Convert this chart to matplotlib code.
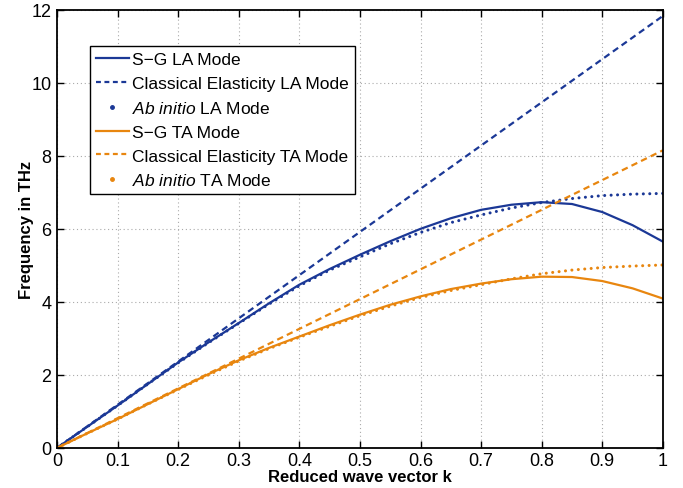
import numpy as np
import matplotlib.pyplot as plt
from matplotlib.lines import Line2D

plt.rcParams['font.family'] = ['Liberation Sans', 'DejaVu Sans']
plt.rcParams['mathtext.fontset'] = 'custom'
plt.rcParams['mathtext.it'] = 'Liberation Sans:italic'
plt.rcParams['mathtext.rm'] = 'Liberation Sans'

# reduced wave vector, read every 0.05
k = np.array([0, 0.05, 0.1, 0.15, 0.2, 0.25, 0.3, 0.35, 0.4, 0.45, 0.5,
              0.55, 0.6, 0.65, 0.7, 0.75, 0.8, 0.85, 0.9, 0.95, 1.0])

la_sg = [0, 0.58, 1.16, 1.75, 2.34, 2.89, 3.42, 3.96, 4.47, 4.90, 5.29,
         5.66, 6.00, 6.29, 6.52, 6.66, 6.73, 6.68, 6.46, 6.10, 5.65]
la_abinitio = [0, 0.58, 1.16, 1.75, 2.33, 2.88, 3.41, 3.94, 4.44, 4.87, 5.23,
               5.59, 5.90, 6.17, 6.38, 6.57, 6.72, 6.83, 6.91, 6.95, 6.97]
ta_sg = [0, 0.40, 0.79, 1.20, 1.61, 2.02, 2.40, 2.74, 3.05, 3.36, 3.65,
         3.92, 4.15, 4.35, 4.50, 4.62, 4.69, 4.68, 4.57, 4.37, 4.09]
ta_abinitio = [0, 0.40, 0.79, 1.20, 1.60, 2.00, 2.38, 2.72, 3.03, 3.33, 3.62,
               3.88, 4.12, 4.31, 4.47, 4.63, 4.77, 4.87, 4.94, 4.98, 5.01]

# classical elasticity is a straight line
k_cl = [0, 1]
la_cl = [0, 11.83]
ta_cl = [0, 8.15]

blue = '#1b3896'
orange = '#e8860f'

fig = plt.figure(figsize=(6.83, 4.89), dpi=100)
ax = fig.add_axes([0.0835, 0.082, 0.887, 0.896])

dash = (0, (2.9, 1.9))
dots = (0, (0.01, 2.1))

ax.plot(k, la_sg, color=blue, lw=1.6)
ax.plot(k_cl, la_cl, color=blue, lw=1.6, linestyle=dash)
ax.plot(k, la_abinitio, color=blue, lw=2.2, linestyle=dots, dash_capstyle='round')
ax.plot(k, ta_sg, color=orange, lw=1.6)
ax.plot(k_cl, ta_cl, color=orange, lw=1.6, linestyle=dash)
ax.plot(k, ta_abinitio, color=orange, lw=2.2, linestyle=dots, dash_capstyle='round')

ax.set_xlim(0, 1)
ax.set_ylim(0, 12)
ax.set_xticks(np.arange(0, 1.01, 0.1))
ax.set_xticklabels(['0', '0.1', '0.2', '0.3', '0.4', '0.5', '0.6', '0.7', '0.8', '0.9', '1'])
ax.set_yticks(np.arange(0, 13, 2))
ax.tick_params(direction='in', length=5, width=1, top=True, right=True, labelsize=13)
ax.tick_params(axis='x', pad=3)
ax.tick_params(axis='y', pad=4)
ax.grid(True, linestyle=(0, (1, 2.5)), color='#aaaaaa', lw=0.8)
for s in ax.spines.values():
    s.set_linewidth(1.3)

ax.set_xlabel('Reduced wave vector k', fontsize=12, fontweight='bold', labelpad=0)
ax.set_ylabel('Frequency in THz', fontsize=12, fontweight='bold', labelpad=-2)

handles = [
    Line2D([], [], color=blue, lw=1.6),
    Line2D([], [], color=blue, lw=1.6, linestyle=(0, (2.2, 1.6))),
    Line2D([], [], color=blue, linestyle='none', marker='.', markersize=5),
    Line2D([], [], color=orange, lw=1.6),
    Line2D([], [], color=orange, lw=1.6, linestyle=(0, (2.2, 1.6))),
    Line2D([], [], color=orange, linestyle='none', marker='.', markersize=5),
]
labels = ['S\u2212G LA Mode', 'Classical Elasticity LA Mode', r'$\mathit{Ab\ initio}$ LA Mode',
          'S\u2212G TA Mode', 'Classical Elasticity TA Mode', r'$\mathit{Ab\ initio}$ TA Mode']
leg = ax.legend(handles, labels, loc='upper left', bbox_to_anchor=(0.054, 0.917),
                fontsize=12.5, frameon=True, fancybox=False, framealpha=1,
                edgecolor='black', handlelength=1.9, handletextpad=0.2,
                borderpad=0.35, labelspacing=0.5, borderaxespad=0)
leg.get_frame().set_linewidth(1.0)

fig.savefig('out.png', dpi=100)
